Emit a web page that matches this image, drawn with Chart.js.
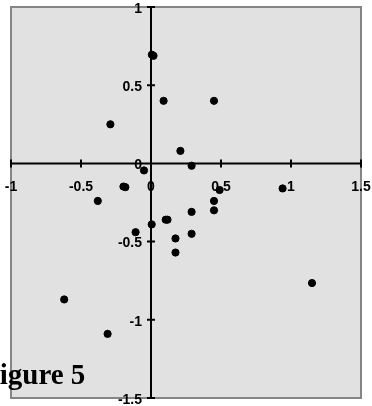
<!DOCTYPE html>
<html>
<head>
<meta charset="utf-8">
<script src="https://cdn.jsdelivr.net/npm/chart.js@4"></script>
<style>
  html, body { margin: 0; padding: 0; background: #fff; overflow: hidden; }
  #wrap { width: 372px; height: 406px; }
</style>
</head>
<body>
<div id="wrap"><canvas id="myScatter" width="372" height="406"></canvas></div>
<script>
const xValues = [0.006, 0.018, 0.09, 0.45, -0.29, 0.21, 0.29, -0.05, -0.197, -0.183, -0.38, 0.49, 0.94, 0.45, 0.45, 0.29, 0.105, 0.118, 0.005, -0.11, 0.29, 0.175, 0.175, -0.62, -0.31, 1.15];
const yValues = [0.695, 0.688, 0.40, 0.40, 0.25, 0.08, -0.015, -0.045, -0.148, -0.152, -0.24, -0.17, -0.16, -0.24, -0.30, -0.31, -0.36, -0.36, -0.39, -0.44, -0.45, -0.48, -0.57, -0.87, -1.09, -0.765];
const xTicks = [-1, -0.5, 0, 0.5, 1, 1.5];
const yTicks = [-1.5, -1, -0.5, 0, 0.5, 1];
const titleText = 'Figure 5';

const points = xValues.map((x, i) => ({ x: x, y: yValues[i] }));

const crossAxes = {
    id: 'crossAxes',
    beforeDraw(chart) {
        const ctx = chart.ctx;
        const a = chart.chartArea;
        ctx.save();
        ctx.fillStyle = '#ffffff';
        ctx.fillRect(0, 0, chart.width, chart.height);
        ctx.fillStyle = '#e1e1e1';
        ctx.fillRect(a.left, a.top, a.right - a.left, a.bottom - a.top);
        ctx.strokeStyle = '#858585';
        ctx.lineWidth = 2;
        ctx.strokeRect(a.left, a.top, a.right - a.left, a.bottom - a.top);
        ctx.restore();
    },
    beforeDatasetsDraw(chart) {
        const ctx = chart.ctx;
        const xs = chart.scales.x;
        const ys = chart.scales.y;
        const x0 = xs.getPixelForValue(0);
        const y0 = ys.getPixelForValue(0);
        ctx.save();
        ctx.strokeStyle = '#000';
        ctx.lineWidth = 2;
        ctx.beginPath();
        ctx.moveTo(xs.left, y0);
        ctx.lineTo(xs.right, y0);
        ctx.moveTo(x0, ys.top);
        ctx.lineTo(x0, ys.bottom);
        xTicks.forEach(v => {
            const px = xs.getPixelForValue(v);
            ctx.moveTo(px, y0 - 4);
            ctx.lineTo(px, y0 + 4);
        });
        yTicks.forEach(v => {
            const py = ys.getPixelForValue(v);
            ctx.moveTo(x0 - 4, py);
            ctx.lineTo(x0 + 4, py);
        });
        ctx.stroke();

        ctx.fillStyle = '#000';
        ctx.font = 'bold 14px "Liberation Sans", Arial, sans-serif';
        ctx.textBaseline = 'middle';
        ctx.textAlign = 'center';
        xTicks.forEach(v => {
            ctx.fillText(String(v), xs.getPixelForValue(v), y0 + 24);
        });
        ctx.textAlign = 'right';
        yTicks.forEach(v => {
            ctx.fillText(String(v), x0 - 9, ys.getPixelForValue(v) + 2);
        });
        ctx.restore();
    },
    afterDraw(chart) {
        const ctx = chart.ctx;
        ctx.save();
        ctx.fillStyle = '#000';
        ctx.font = 'bold 29px "Liberation Serif", "Times New Roman", serif';
        ctx.textBaseline = 'alphabetic';
        ctx.textAlign = 'left';
        ctx.fillText(titleText, -18, 384);
        ctx.restore();
    }
};

const ctx = document.getElementById('myScatter').getContext('2d');
const myScatter = new Chart(ctx, {
    type: 'scatter',
    data: {
        datasets: [{
            data: points,
            backgroundColor: '#000',
            borderColor: '#000',
            pointRadius: 3.6,
            pointHoverRadius: 3.6
        }]
    },
    options: {
        responsive: false,
        animation: false,
        layout: { padding: { left: 11, right: 11, top: 7, bottom: 8 } },
        plugins: {
            legend: { display: false },
            tooltip: { enabled: false }
        },
        scales: {
            x: { type: 'linear', min: -1, max: 1.5, display: false },
            y: { type: 'linear', min: -1.5, max: 1, display: false }
        }
    },
    plugins: [crossAxes]
});
</script>
</body>
</html>
